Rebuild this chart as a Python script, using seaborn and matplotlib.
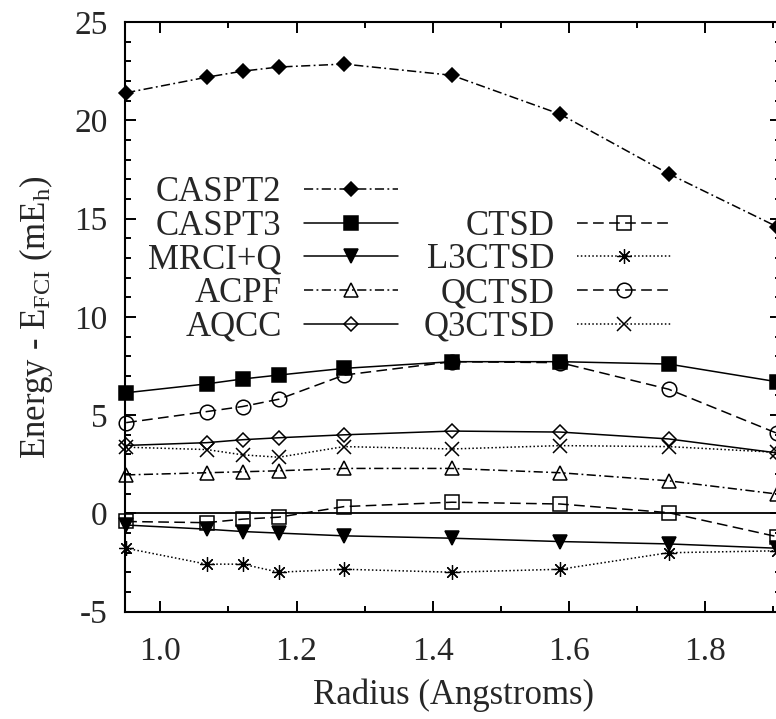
import numpy as np
import pandas as pd
import matplotlib
matplotlib.use("Agg")
import matplotlib.pyplot as plt
from matplotlib.lines import Line2D
from matplotlib.ticker import MultipleLocator
import seaborn as sns

# ---- data ----
radius = [0.95, 1.068, 1.121, 1.174, 1.27, 1.428, 1.587, 1.746, 1.905]
caspt2 = [21.4, 22.19, 22.5, 22.71, 22.86, 22.29, 20.31, 17.28, 14.59]
caspt3 = [6.14, 6.59, 6.84, 7.04, 7.38, 7.72, 7.72, 7.60, 6.70]
mrciq = [-0.59, -0.80, -0.92, -1.00, -1.14, -1.26, -1.43, -1.55, -1.77]
acpf = [1.96, 2.07, 2.12, 2.17, 2.29, 2.29, 2.07, 1.66, 0.99]
aqcc = [3.46, 3.60, 3.75, 3.85, 4.00, 4.19, 4.14, 3.79, 3.08]
ctsd = [-0.41, -0.47, -0.29, -0.19, 0.35, 0.57, 0.48, 0.04, -1.18]
l3ctsd = [-1.77, -2.58, -2.58, -2.99, -2.84, -2.99, -2.84, -2.00, -1.90]
qctsd = [4.62, 5.18, 5.44, 5.81, 7.04, 7.72, 7.67, 6.32, 4.08]
q3ctsd = [3.37, 3.25, 2.98, 2.86, 3.40, 3.28, 3.45, 3.40, 3.11]

methods = ["CASPT2", "CASPT3", "MRCI+Q", "ACPF", "AQCC",
           "CTSD", "L3CTSD", "QCTSD", "Q3CTSD"]
values = [caspt2, caspt3, mrciq, acpf, aqcc, ctsd, l3ctsd, qctsd, q3ctsd]

x_ticks = [1.0, 1.2, 1.4, 1.6, 1.8]
y_ticks = [-5, 0, 5, 10, 15, 20, 25]

# ---- styles ----
dashdot = (0, (6, 2.2, 1.2, 2.2))
dashed = (0, (7, 3.5))
dotted = (0, (1, 1.5))
styles = {
    "CASPT2": dict(linestyle=dashdot, marker="D", markersize=7, markerfacecolor="black", markeredgewidth=1.1),
    "CASPT3": dict(linestyle="-", marker="s", markersize=9.5, markerfacecolor="black", markeredgewidth=1.1),
    "MRCI+Q": dict(linestyle="-", marker="v", markersize=10, markerfacecolor="black", markeredgewidth=1.1),
    "ACPF": dict(linestyle=dashdot, marker="^", markersize=10.5, markerfacecolor="none", markeredgewidth=1.1),
    "AQCC": dict(linestyle="-", marker="D", markersize=7, markerfacecolor="none", markeredgewidth=1.1),
    "CTSD": dict(linestyle=dashed, marker="s", markersize=10, markerfacecolor="none", markeredgewidth=1.1),
    "L3CTSD": dict(linestyle=dotted, marker=(8, 2, 0), markersize=10.5, markerfacecolor="none", markeredgewidth=0.9),
    "QCTSD": dict(linestyle=dashed, marker="o", markersize=10.5, markerfacecolor="none", markeredgewidth=1.1),
    "Q3CTSD": dict(linestyle=dotted, marker="x", markersize=10, markerfacecolor="none", markeredgewidth=1.1),
}

sns.set_style("ticks")
plt.rcParams["font.family"] = ["Liberation Serif", "DejaVu Serif"]
plt.rcParams["mathtext.fontset"] = "custom"
plt.rcParams["mathtext.rm"] = "Liberation Serif"
plt.rcParams["mathtext.it"] = "Liberation Serif:italic"

fig = plt.figure(figsize=(7.76, 7.19), dpi=100)
ax = fig.add_axes([0.1617, 0.1492, 0.8447, 0.8202])

ax.axhline(0, color="black", lw=1.3, zorder=1)

handles = []
for name, vals in zip(methods, values):
    df = pd.DataFrame({"Radius": radius, "Energy": vals})
    st = styles[name]
    sns.lineplot(data=df, x="Radius", y="Energy", ax=ax, color="black",
                 linewidth=1.1, markeredgecolor="black",
                 clip_on=False, zorder=3, **st)
    handles.append(Line2D([], [], color="black", linewidth=1.1,
                          markeredgecolor="black", **st))

ax.set_xlim(0.949, 1.911)
ax.set_ylim(-5, 25)
ax.set_xticks(x_ticks)
ax.set_xticklabels([f"{t:.1f}" for t in x_ticks])
ax.set_yticks(y_ticks)
ax.set_yticklabels([str(t) for t in y_ticks])
ax.xaxis.set_minor_locator(MultipleLocator(0.1))
ax.yaxis.set_minor_locator(MultipleLocator(1))
ax.tick_params(which="both", direction="in", top=True, right=True,
               width=1.4, color="black", labelsize=24)
ax.tick_params(which="major", length=8)
ax.tick_params(which="minor", length=4)
ax.tick_params(axis="x", which="major", pad=18)
ax.tick_params(axis="y", which="major", pad=13)
for sp in ax.spines.values():
    sp.set_linewidth(1.5)
    sp.set_color("black")

ax.set_xlabel("Radius (Angstroms)", fontsize=25, labelpad=8)
ax.set_ylabel(r"Energy - E$_{\mathrm{FCI}}$ (mE$_{\mathrm{h}}$)", fontsize=25, labelpad=14)

blank = Line2D([], [], linestyle="none")
leg_handles = handles[:5] + [blank] + handles[5:]
leg_labels = methods[:5] + [""] + methods[5:]
leg = ax.legend(leg_handles, leg_labels, ncol=2, markerfirst=False,
                frameon=False, fontsize=25, handlelength=2.7,
                handletextpad=0.66, columnspacing=0.72, labelspacing=0.02,
                borderpad=0, borderaxespad=0, loc="upper left",
                bbox_to_anchor=(148 / 776, 1 - 176 / 719),
                bbox_transform=fig.transFigure)

fig.savefig("out.png", dpi=100)
